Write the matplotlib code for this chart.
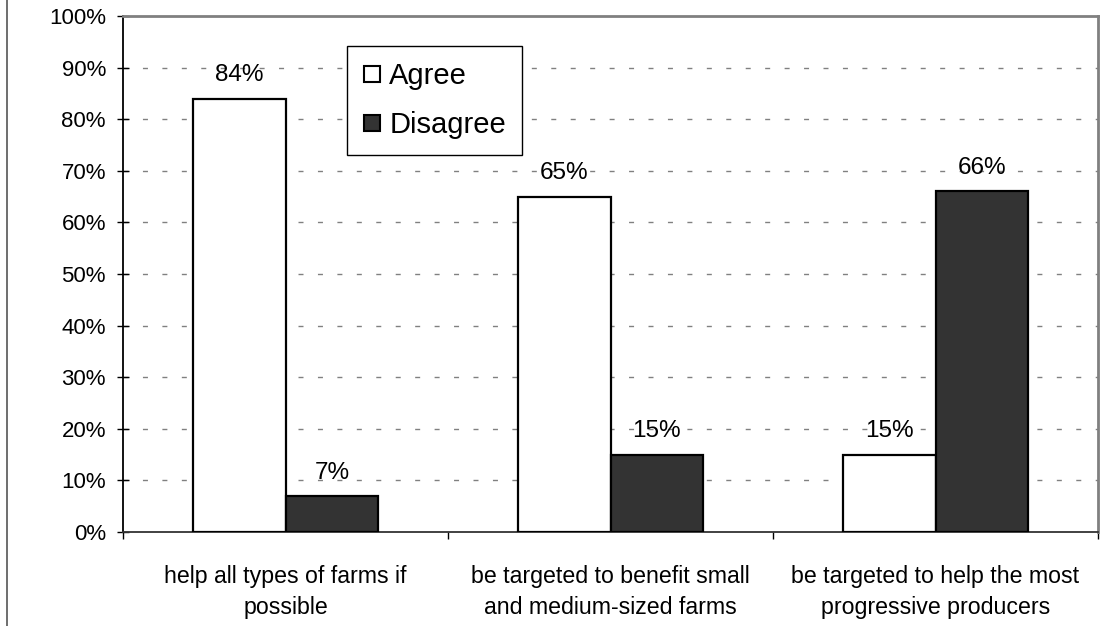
import matplotlib.pyplot as plt
import numpy as np
from matplotlib.lines import Line2D

# survey responses (share of respondents)
categories = ["help all types of farms if\npossible",
              "be targeted to benefit small\nand medium-sized farms",
              "be targeted to help the most\nprogressive producers"]
agree = [84, 65, 15]
disagree = [7, 15, 66]
yticks = list(range(0, 101, 10))

plt.rcParams['font.family'] = ['Liberation Sans', 'DejaVu Sans']

fig = plt.figure(figsize=(11.2, 6.26), dpi=100)
ax = fig.add_axes([123 / 1120, 94 / 626, 975 / 1120, 516 / 626])

x = np.arange(len(categories))
w = 1 / 3.5  # gap width 150%
b1 = ax.bar(x - w / 2, agree, w, color="white", edgecolor="black", linewidth=1.6, zorder=3)
b2 = ax.bar(x + w / 2, disagree, w, color="#333333", edgecolor="black", linewidth=1.6, zorder=3)

for bars, vals in [(b1, agree), (b2, disagree)]:
    for r, v in zip(bars, vals):
        ax.annotate(f"{v}%", (r.get_x() + r.get_width() / 2, v), xytext=(0, 12.5),
                    textcoords="offset points", ha="center", va="baseline", fontsize=17.5)

ax.set_xlim(-0.5, len(categories) - 0.5)
ax.set_ylim(0, 100)
ax.set_yticks(yticks)
ax.set_yticklabels([f"{t}%" for t in yticks], fontsize=16)
ax.tick_params(axis="y", direction="inout", length=8.5, width=1, pad=8)

# category boundaries as major ticks, labels on minor ticks
ax.set_xticks(np.arange(-0.5, len(categories), 1.0))
ax.set_xticklabels([])
ax.tick_params(axis="x", which="major", direction="out", length=5, width=1)
ax.set_xticks(x, minor=True)
ax.set_xticklabels(categories, minor=True, fontsize=16.7, linespacing=1.4)
ax.tick_params(axis="x", which="minor", length=0, pad=24)

for t in yticks[1:-1]:
    ax.axhline(t, color="#808080", linewidth=1.0, dashes=(3.6, 10.4), zorder=1)

ax.spines["left"].set_color("black")
ax.spines["left"].set_linewidth(1.3)
ax.spines["bottom"].set_color("#333333")
ax.spines["bottom"].set_linewidth(1.3)
for s in ["top", "right"]:
    ax.spines[s].set_color("#808080")
    ax.spines[s].set_linewidth(2)

handles = [Line2D([], [], linestyle="none", marker="s", markersize=12,
                  markerfacecolor="white", markeredgecolor="black", markeredgewidth=1.5),
           Line2D([], [], linestyle="none", marker="s", markersize=12,
                  markerfacecolor="#333333", markeredgecolor="black", markeredgewidth=1.5)]
leg = ax.legend(handles, ["Agree", "Disagree"], loc="upper left",
                bbox_to_anchor=(0.2297, 0.942), fontsize=21, frameon=True,
                fancybox=False, edgecolor="black", framealpha=1,
                handlelength=0.6, handletextpad=0.3, borderpad=0.55,
                labelspacing=0.72, borderaxespad=0)
leg.get_frame().set_linewidth(1.0)

# left edge of the chart area
fig.add_artist(Line2D([7 / 1120, 7 / 1120], [0, 1], color="#555555", linewidth=1.2))

fig.savefig("out.png", dpi=100)
